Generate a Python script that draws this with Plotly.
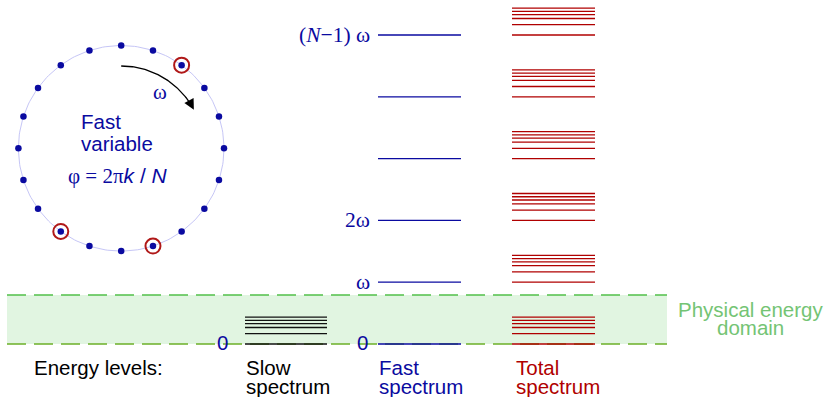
import numpy as np
import plotly.graph_objects as go

# ---------------- data ----------------
fast_levels = [0, 1, 2, 3, 4, 5]                 # in units of omega (top one is (N-1) omega)
fast_labels = ["0", "ω", "2ω", "", "", "(<i>N</i>−1) ω"]
slow_levels = [0.0, 0.167, 0.267, 0.330, 0.383, 0.435]   # in units of omega
n_sites = 20                                      # points on the ring
marked_sites = [2, 9, 12]                         # circled points (k, clockwise from top)
physical_domain_top = 0.793                       # in units of omega

# ---------------- style/layout ----------------
W, H = 824, 397
E0_PIX, DE_PIX = 344.0, 61.8
y_lo = (E0_PIX - H) / DE_PIX
y_hi = E0_PIX / DE_PIX
SANS = "Liberation Sans, Arial, sans-serif"
SERIF = "Liberation Serif, Times New Roman, serif"
BLUE = "#0a0aa0"
RED = "#b00000"
GREEN_TXT = "#74c474"
FS = 20.5

fig = go.Figure()

def level_trace(levels, x0, x1, color, width=1.3):
    xs, ys = [], []
    for e in levels:
        xs += [x0, x1, None]
        ys += [e, e, None]
    return go.Scatter(x=xs, y=ys, mode="lines", line=dict(color=color, width=width),
                      hoverinfo="skip", showlegend=False)

# physical energy band
fig.add_shape(type="rect", xref="x", yref="y", x0=7, x1=667, y0=0, y1=physical_domain_top,
              fillcolor="#e1f5e1", line=dict(width=0), layer="below")
fig.add_shape(type="line", xref="x", yref="y", x0=7, x1=667, y0=physical_domain_top, y1=physical_domain_top,
              line=dict(color="#52c04a", width=1.6, dash="19px,8px"), layer="below")
fig.add_shape(type="line", xref="x", yref="y", x0=7, x1=667, y0=0, y1=0,
              line=dict(color="#6cb028", width=1.6, dash="19px,8px"), layer="below")

# spectra
fig.add_trace(level_trace(slow_levels, 245, 327, "#111111"))
fig.add_trace(level_trace(fast_levels, 378, 461, BLUE))
total_levels = [f + s for f in fast_levels for s in slow_levels]
fig.add_trace(level_trace(total_levels, 512, 595, RED))

# ring (pixel coordinates on y2)
cx, cy, R = 121.2, 148.3, 102.8
th = np.linspace(0, 2 * np.pi, 241)
fig.add_trace(go.Scatter(x=cx + R * np.sin(th), y=cy - R * np.cos(th), yaxis="y2", mode="lines",
                         line=dict(color="#c6c6f6", width=1), hoverinfo="skip", showlegend=False))
k = np.arange(n_sites)
phi = 2 * np.pi * k / n_sites
fig.add_trace(go.Scatter(x=cx + R * np.sin(phi), y=cy - R * np.cos(phi), yaxis="y2", mode="markers",
                         marker=dict(color=BLUE, size=6.5), hoverinfo="skip", showlegend=False))
pm = 2 * np.pi * np.array(marked_sites) / n_sites
fig.add_trace(go.Scatter(x=cx + R * np.sin(pm), y=cy - R * np.cos(pm), yaxis="y2", mode="markers",
                         marker=dict(symbol="circle-open", color="#b01818", size=15,
                                     line=dict(width=2, color="#b01818")),
                         hoverinfo="skip", showlegend=False))
# rotation arrow
ra = 82.3
ta = np.linspace(0, np.deg2rad(58), 60)
fig.add_trace(go.Scatter(x=cx + ra * np.sin(ta), y=cy - ra * np.cos(ta), yaxis="y2", mode="lines",
                         line=dict(color="black", width=1.3), hoverinfo="skip", showlegend=False))
tend = np.deg2rad(62)
tipx, tipy = cx + ra * np.sin(tend), cy - ra * np.cos(tend)
fig.add_annotation(x=tipx, y=tipy, xref="x", yref="y2", ax=-10 * np.cos(tend), ay=-10 * np.sin(tend),
                   showarrow=True, arrowhead=2, arrowsize=1.6, arrowwidth=1.3, arrowcolor="black",
                   standoff=0, text="")

ann = []
def txt(x, y, s, color, size=FS, family=SANS, xanchor="left", yref="y2"):
    ann.append(dict(x=x, y=y, xref="x", yref=yref, text=s, showarrow=False, xanchor=xanchor,
                    yanchor="middle", font=dict(color=color, size=size, family=family)))

txt(160, 92, "ω", BLUE, size=21, family=SERIF, xanchor="center")
txt(79, 121, "Fast", BLUE)
txt(79, 143, "variable", BLUE)
txt(118, 176, "<span style='font-family:Liberation Serif'>φ = 2π</span><i>k</i> / <i>N</i>",
    BLUE, size=21, xanchor="center")

# fast spectrum labels
for e, lab in zip(fast_levels, fast_labels):
    if lab and lab != "0":
        txt(372, e, lab, BLUE, size=21.5, family=SERIF, xanchor="right", yref="y")
txt(370, 0.02, "0", BLUE, xanchor="right", yref="y")
txt(230, 0.02, "0", BLUE, xanchor="right", yref="y")

# bottom labels
txt(32, 367, "Energy levels:", "black")
txt(244, 367, "Slow", "black")
txt(244, 386, "spectrum", "black")
txt(377, 367, "Fast", BLUE)
txt(377, 386, "spectrum", BLUE)
txt(514, 367, "Total", RED)
txt(514, 386, "spectrum", RED)
txt(750, 309, "Physical energy", GREEN_TXT, xanchor="center")
txt(750, 327, "domain", GREEN_TXT, xanchor="center")

fig.update_layout(
    width=W, height=H, margin=dict(l=0, r=0, t=0, b=0),
    paper_bgcolor="white", plot_bgcolor="white", showlegend=False,
    xaxis=dict(range=[0, W], visible=False, fixedrange=True),
    yaxis=dict(range=[y_lo, y_hi], visible=False, fixedrange=True),
    yaxis2=dict(range=[H, 0], overlaying="y", visible=False, fixedrange=True),
    annotations=fig.layout.annotations + tuple(ann),
)

fig.write_html("out.html", config={"displayModeBar": False},
               post_script="document.body.style.margin='0';document.body.style.overflow='hidden';")
